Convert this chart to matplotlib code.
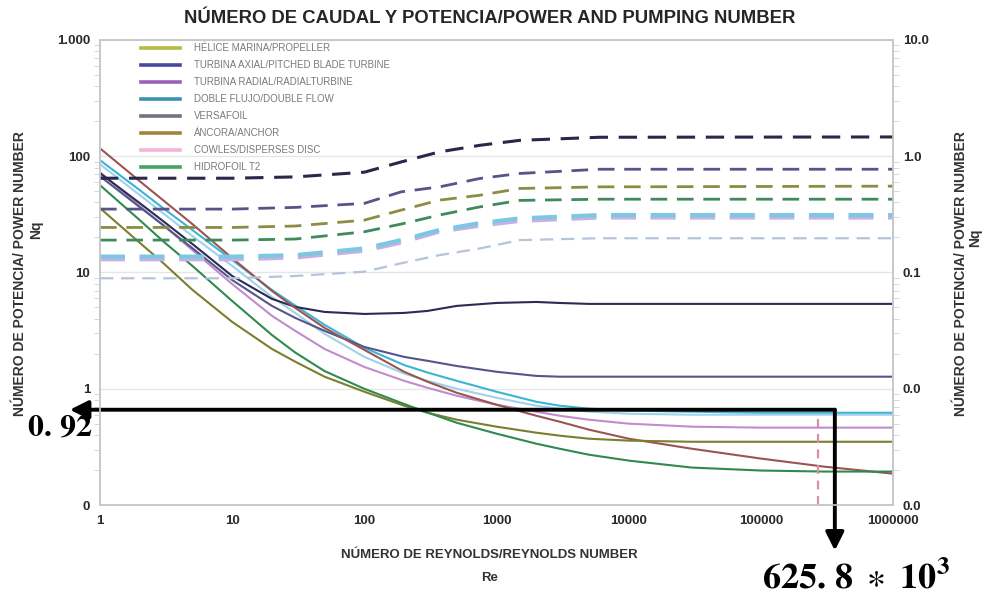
import matplotlib
matplotlib.use("Agg")
import matplotlib.pyplot as plt
from matplotlib.lines import Line2D

plt.rcParams['font.family'] = ['Liberation Sans', 'DejaVu Sans']
plt.rcParams['mathtext.fontset'] = 'stix'

# ---------------- data ----------------
RE_NP = [1, 2, 3, 5, 10, 20, 30, 50, 100, 200, 300, 500, 1000, 2000, 3000, 5000,
         10000, 30000, 100000, 300000, 1000000]

NP_PROPELLER = [35.8, 18.0, 12.1, 7.1, 3.76, 2.20, 1.71, 1.27, 0.943, 0.715, 0.622, 0.542,
                0.472, 0.419, 0.395, 0.372, 0.358, 0.35, 0.35, 0.35, 0.35]
NP_AXIAL = [67.3, 36.5, 25.6, 16.2, 8.62, 5.16, 4.07, 3.15, 2.29, 1.88, 1.74, 1.57,
            1.40, 1.29, 1.27, 1.27, 1.27, 1.27, 1.27, 1.27, 1.27]
NP_RADIAL = [71.5, 39.5, 27.7, 17.6, 9.33, 5.93, 5.06, 4.58, 4.40, 4.49, 4.67, 5.16,
             5.47, 5.58, 5.47, 5.37, 5.37, 5.37, 5.37, 5.37, 5.37]
NP_DOUBLE = [92.4, 51.1, 35.8, 23.2, 12.8, 7.08, 5.2, 3.55, 2.25, 1.6, 1.38, 1.17,
             0.943, 0.773, 0.715, 0.674, 0.648, 0.635, 0.622, 0.622, 0.622]
NP_VERSAFOIL = [85.4, 46.3, 32.4, 20.6, 11.4, 6.16, 4.49, 2.97, 1.88, 1.35, 1.17, 1.0,
                0.837, 0.715, 0.674, 0.635, 0.610, 0.598, 0.598, 0.598, 0.598]
NP_ANCHOR = [117.0, 61.0, 41.9, 26.1, 13.3, 6.94, 4.96, 3.34, 2.16, 1.40, 1.15, 0.924,
             0.729, 0.586, 0.521, 0.445, 0.372, 0.305, 0.251, 0.214, 0.186]
NP_COWLES = [72.9, 37.2, 25.6, 15.6, 7.96, 4.24, 3.15, 2.20, 1.54, 1.17, 1.02, 0.871,
             0.729, 0.635, 0.586, 0.542, 0.501, 0.472, 0.463, 0.463, 0.463]
NP_HYDROFOIL = [56.4, 28.2, 18.6, 11.4, 5.69, 2.9, 2.05, 1.42, 1.0, 0.74, 0.625, 0.51,
                0.411, 0.337, 0.305, 0.271, 0.241, 0.210, 0.198, 0.194, 0.194]

RE_NQ = [1, 10, 30, 100, 190, 370, 750, 1500, 6000, 1000000]

NQ_RADIAL = [0.647, 0.647, 0.664, 0.729, 0.893, 1.09, 1.242, 1.37, 1.456, 1.465]
NQ_AXIAL = [0.351, 0.351, 0.363, 0.393, 0.494, 0.545, 0.644, 0.711, 0.773, 0.773]
NQ_PROPELLER = [0.244, 0.244, 0.251, 0.282, 0.344, 0.419, 0.462, 0.528, 0.545, 0.553]
NQ_HYDROFOIL = [0.190, 0.190, 0.194, 0.224, 0.261, 0.312, 0.367, 0.417, 0.427, 0.427]
NQ_DOUBLE = [0.137, 0.137, 0.141, 0.161, 0.190, 0.232, 0.266, 0.292, 0.312, 0.312]
NQ_COWLES = [0.130, 0.130, 0.1345, 0.154, 0.181, 0.225, 0.253, 0.278, 0.297, 0.297]
NQ_VERSAFOIL = [0.0892, 0.0892, 0.0933, 0.1016, 0.120, 0.141, 0.161, 0.190, 0.197, 0.197]

LEGEND_LABELS = ["HÉLICE MARINA/PROPELLER", "TURBINA AXIAL/PITCHED BLADE TURBINE",
                 "TURBINA RADIAL/RADIALTURBINE", "DOBLE FLUJO/DOUBLE FLOW", "VERSAFOIL",
                 "ÁNCORA/ANCHOR", "COWLES/DISPERSES DISC", "HIDROFOIL T2"]

X_TICKS = [1, 10, 100, 1000, 10000, 100000, 1000000]
X_TICK_LABELS = ["1", "10", "100", "1000", "10000", "100000", "1000000"]
Y_TICKS = [0.1, 1, 10, 100, 1000]
Y_TICK_LABELS = ["0", "1", "10", "100", "1.000"]
Y2_TICKS = [0.001, 0.01, 0.1, 1, 10]
Y2_TICK_LABELS = ["0.0", "0.0", "0.1", "1.0", "10.0"]

MARK_RE = 3.63e5
MARK_NQ = 0.66
MARK_LINE_RE = 2.7e5

# ---------------- figure ----------------
fig = plt.figure(figsize=(9.85, 6.02), dpi=100)
ax = fig.add_axes([0.1015, 0.1611, 0.8051, 0.7725])
ax2 = ax.twinx()

ax.set_xscale('log')
ax.set_yscale('log')
ax2.set_yscale('log')
ax.set_xlim(1, 1e6)
ax.set_ylim(0.1, 1000)
ax2.set_ylim(0.001, 10)

spine_c = '#c8c8c8'
for a in (ax, ax2):
    for s in a.spines.values():
        s.set_color(spine_c)
        s.set_linewidth(1.2)

ax.grid(True, which='major', axis='y', color='#e6e6e6', lw=1.0)
ax.set_axisbelow(True)

# solid power-number curves
solid = [
    (NP_VERSAFOIL, '#9fd2ea'),
    (NP_DOUBLE, '#3cb4d4'),
    (NP_COWLES, '#c08ccc'),
    (NP_AXIAL, '#55558c'),
    (NP_RADIAL, '#2b2b55'),
    (NP_ANCHOR, '#9a5552'),
    (NP_PROPELLER, '#7d7d2e'),
    (NP_HYDROFOIL, '#2f8a4e'),
]
for vals, c in solid:
    ax.plot(RE_NP, vals, color=c, lw=1.5, solid_capstyle='round',
            solid_joinstyle='round')

# dashed pumping-number curves (right axis)
dashed = [
    (NQ_VERSAFOIL, '#b4c4da', 1.6),
    (NQ_COWLES, '#c8b0e2', 3.0),
    (NQ_DOUBLE, '#7cc8e2', 3.0),
    (NQ_HYDROFOIL, '#3f8a5c', 2.0),
    (NQ_PROPELLER, '#8c8c44', 2.0),
    (NQ_AXIAL, '#55558a', 2.0),
    (NQ_RADIAL, '#28284a', 2.2),
]
for vals, c, lw in dashed:
    ax2.plot(RE_NQ, vals, color=c, lw=lw, dashes=(6, 3.5))

# pink dashed marker line
ax2.plot([MARK_LINE_RE, MARK_LINE_RE], [0.001, 0.0055], color='#d890a8', lw=1.6,
         dashes=(4, 3))

# ticks
ax.set_xticks(X_TICKS)
ax.set_xticklabels(X_TICK_LABELS)
ax.set_yticks(Y_TICKS)
ax.set_yticklabels(Y_TICK_LABELS)
ax2.set_yticks(Y2_TICKS)
ax2.set_yticklabels(Y2_TICK_LABELS)
ax.xaxis.set_minor_locator(matplotlib.ticker.NullLocator())
for a in (ax, ax2):
    a.tick_params(axis='both', which='major', length=0, pad=7, labelsize=9.5,
                  labelcolor='#2a2a2a')
    a.tick_params(axis='y', which='minor', length=4, color='#d0d0d0', direction='out')
    for lab in a.get_yticklabels() + a.get_xticklabels():
        lab.set_fontweight('bold')
ax2.yaxis.set_minor_formatter(matplotlib.ticker.NullFormatter())
ax.yaxis.set_minor_formatter(matplotlib.ticker.NullFormatter())

# labels
lab_c = '#333333'
fig.text(0.497, 0.969, "NÚMERO DE CAUDAL Y POTENCIA/POWER AND PUMPING NUMBER",
         ha='center', va='center', fontsize=13.3, fontweight='bold', color='#262626')
fig.text(0.497, 0.078, "NÚMERO DE REYNOLDS/REYNOLDS NUMBER", ha='center',
         va='center', fontsize=9.5, fontweight='bold', color=lab_c)
fig.text(0.497, 0.040, "Re", ha='center', va='center', fontsize=9.5, fontweight='bold',
         color=lab_c)
fig.text(0.020, 0.546, "NÚMERO DE POTENCIA/ POWER NUMBER", ha='center', va='center',
         rotation=90, fontsize=10, fontweight='bold', color=lab_c)
fig.text(0.037, 0.618, "Nq", ha='center', va='center', rotation=90, fontsize=10,
         fontweight='bold', color=lab_c)
fig.text(0.976, 0.546, "NÚMERO DE POTENCIA/ POWER NUMBER", ha='center', va='center',
         rotation=90, fontsize=10, fontweight='bold', color=lab_c)
fig.text(0.990, 0.605, "Nq", ha='center', va='center', rotation=90, fontsize=10,
         fontweight='bold', color=lab_c)

# legend
leg_colors = ['#b8b845', '#48489c', '#9c62ba', '#3a92b2', '#727284', '#a4823e',
              '#f2b4da', '#44a464']
handles = [Line2D([0], [0], color=c, lw=2.6) for c in leg_colors]
leg = ax.legend(handles, LEGEND_LABELS, loc='upper left', bbox_to_anchor=(0.045, 1.006),
                frameon=False, fontsize=7.0, handlelength=4.0, handletextpad=1.4,
                labelspacing=0.72, borderaxespad=0.2)
for t in leg.get_texts():
    t.set_color('#7a7a7a')

# annotations (hand-drawn arrows)
arrow_kw = dict(arrowstyle='-|>,head_length=1.1,head_width=0.55', color='black', lw=2.8,
                shrinkA=0, shrinkB=0)
ax.annotate('', xy=(-0.038, MARK_NQ), xycoords=('axes fraction', 'data'),
            xytext=(MARK_RE, MARK_NQ), textcoords='data', arrowprops=arrow_kw,
            annotation_clip=False)
ax.annotate('', xy=(MARK_RE, -0.098), xycoords=('data', 'axes fraction'),
            xytext=(MARK_RE, MARK_NQ), textcoords='data', arrowprops=arrow_kw,
            annotation_clip=False)
fig.text(0.061, 0.289, r"$\mathbf{0.\,92}$", ha='center', va='center', fontsize=23,
         color='black')
fig.text(0.869, 0.038, r"$\mathbf{625.\,8}\ \ast\ \mathbf{10^{3}}$", ha='center',
         va='center', fontsize=26, color='black')

fig.savefig('out.png', dpi=100, facecolor='white')
